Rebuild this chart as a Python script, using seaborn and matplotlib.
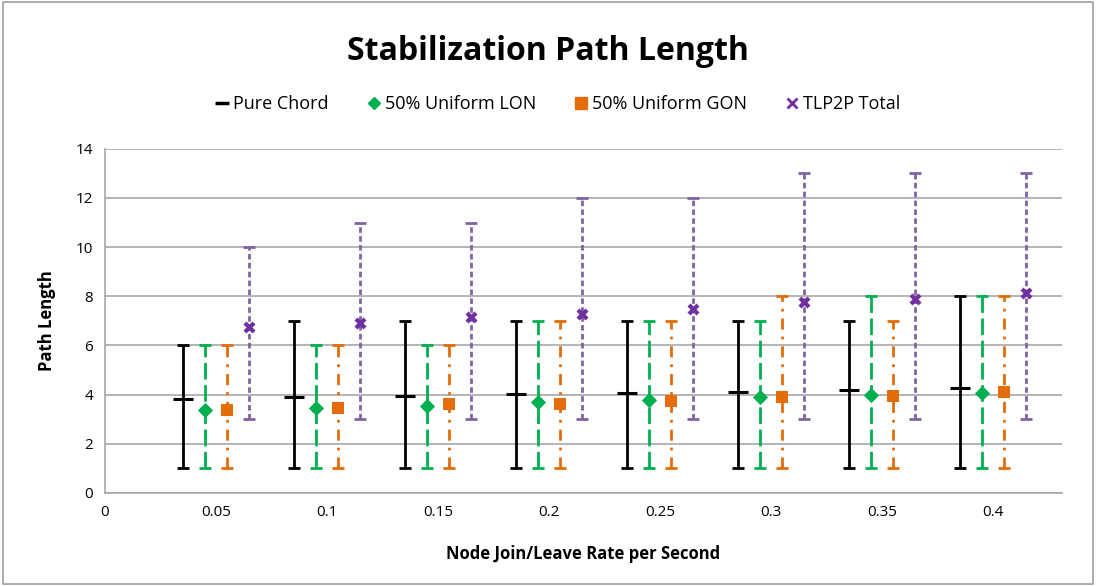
import numpy as np
import pandas as pd
import matplotlib
matplotlib.use("Agg")
import matplotlib.pyplot as plt
import seaborn as sns
from matplotlib.lines import Line2D

rates = [0.05, 0.1, 0.15, 0.2, 0.25, 0.3, 0.35, 0.4]
series = ["Pure Chord", "50% Uniform LON", "50% Uniform GON", "TLP2P Total"]

chord_mean = [3.81, 3.90, 3.93, 4.03, 4.08, 4.11, 4.19, 4.26]
chord_min = [1, 1, 1, 1, 1, 1, 1, 1]
chord_max = [6, 7, 7, 7, 7, 7, 7, 8]

lon_mean = [3.37, 3.46, 3.55, 3.68, 3.79, 3.89, 3.99, 4.08]
lon_min = [1, 1, 1, 1, 1, 1, 1, 1]
lon_max = [6, 6, 6, 7, 7, 7, 8, 8]

gon_mean = [3.38, 3.47, 3.61, 3.61, 3.73, 3.89, 3.95, 4.10]
gon_min = [1, 1, 1, 1, 1, 1, 1, 1]
gon_max = [6, 6, 6, 7, 7, 8, 7, 8]

tlp_mean = [6.74, 6.90, 7.15, 7.27, 7.48, 7.75, 7.88, 8.15]
tlp_min = [3, 3, 3, 3, 3, 3, 3, 3]
tlp_max = [10, 11, 11, 12, 12, 13, 13, 13]

offsets = [-0.015, -0.005, 0.005, 0.015]
colors = ["#000000", "#00B050", "#E46C0A", "#7030A0"]
bar_colors = ["#000000", "#00B050", "#E46C0A", "#8064A2"]
markers = ["_", "D", "s", "X"]
msizes = [200, 60, 70, 75]
dashes = ["-", (0, (6, 2)), (0, (4, 2.5, 1, 2.5)), (0, (2, 1.2))]

means = [chord_mean, lon_mean, gon_mean, tlp_mean]
mins = [chord_min, lon_min, gon_min, tlp_min]
maxs = [chord_max, lon_max, gon_max, tlp_max]

rows = []
for s, m, lo, hi, off in zip(series, means, mins, maxs, offsets):
    for r, mv, l, h in zip(rates, m, lo, hi):
        rows.append({"series": s, "x": r + off, "mean": mv, "lo": l, "hi": h})
df = pd.DataFrame(rows)

sns.set_theme(style="white")
plt.rcParams["font.family"] = ["Open Sans", "DejaVu Sans"]
plt.rcParams["text.color"] = "black"
plt.rcParams["axes.labelcolor"] = "black"
plt.rcParams["xtick.labelcolor"] = "black"
plt.rcParams["ytick.labelcolor"] = "black"

fig = plt.figure(figsize=(10.96, 5.86), dpi=100)
ax = fig.add_axes([0.0958, 0.159, 0.873, 0.587])

for i, s in enumerate(series):
    d = df[df["series"] == s]
    eb = ax.errorbar(d["x"], d["mean"],
                     yerr=[d["mean"] - d["lo"], d["hi"] - d["mean"]],
                     fmt="none", ecolor=bar_colors[i], elinewidth=2.0,
                     capsize=4, capthick=2.0, zorder=2)
    eb[2][0].set_linestyle(dashes[i])
    sns.scatterplot(data=d, x="x", y="mean", marker=markers[i], s=msizes[i],
                    color=colors[i], linewidth=2.2 if markers[i] == "_" else 0,
                    edgecolor=colors[i], ax=ax, zorder=3, legend=False)

ax.set_xlim(0, 0.431)
ax.set_ylim(0, 14)
ax.set_xticks([0] + rates)
ax.set_xticklabels(["0", "0.05", "0.1", "0.15", "0.2", "0.25", "0.3", "0.35", "0.4"])
ax.set_yticks(range(0, 15, 2))
ax.yaxis.grid(True, color="#A0A0A0", linewidth=1.1)
ax.xaxis.grid(False)
for sp in ["top", "right"]:
    ax.spines[sp].set_visible(False)
for sp in ["left", "bottom"]:
    ax.spines[sp].set_color("#A0A0A0")
    ax.spines[sp].set_linewidth(1.1)
ax.tick_params(axis="both", which="both", direction="out", length=5,
               color="#A0A0A0", labelsize=11, width=1.1, labelcolor="black")
ax.set_xlabel("Node Join/Leave Rate per Second", fontsize=12, fontweight="bold", labelpad=18)
ax.set_ylabel("Path Length", fontsize=12, fontweight="bold", labelpad=14)

fig.suptitle("Stabilization Path Length", fontsize=23, fontweight="bold", y=0.94,
             color="black")

handles = [
    Line2D([], [], marker="_", color="#000000", linestyle="none", markersize=10, markeredgewidth=2.5),
    Line2D([], [], marker="D", color="#00B050", linestyle="none", markersize=6),
    Line2D([], [], marker="s", color="#E46C0A", linestyle="none", markersize=8),
    Line2D([], [], marker="x", color="#7030A0", linestyle="none", markersize=7, markeredgewidth=2),
]
fig.legend(handles, series, loc="center", bbox_to_anchor=(0.508, 0.822), ncol=4,
           frameon=False, fontsize=13, handletextpad=0.1, columnspacing=2.0,
           handlelength=1.0)

border = plt.Rectangle((0.003, 0.003), 0.994, 0.994, transform=fig.transFigure,
                       fill=False, edgecolor="#A0A0A0", linewidth=1.2)
fig.add_artist(border)

fig.savefig("out.png", dpi=100)
